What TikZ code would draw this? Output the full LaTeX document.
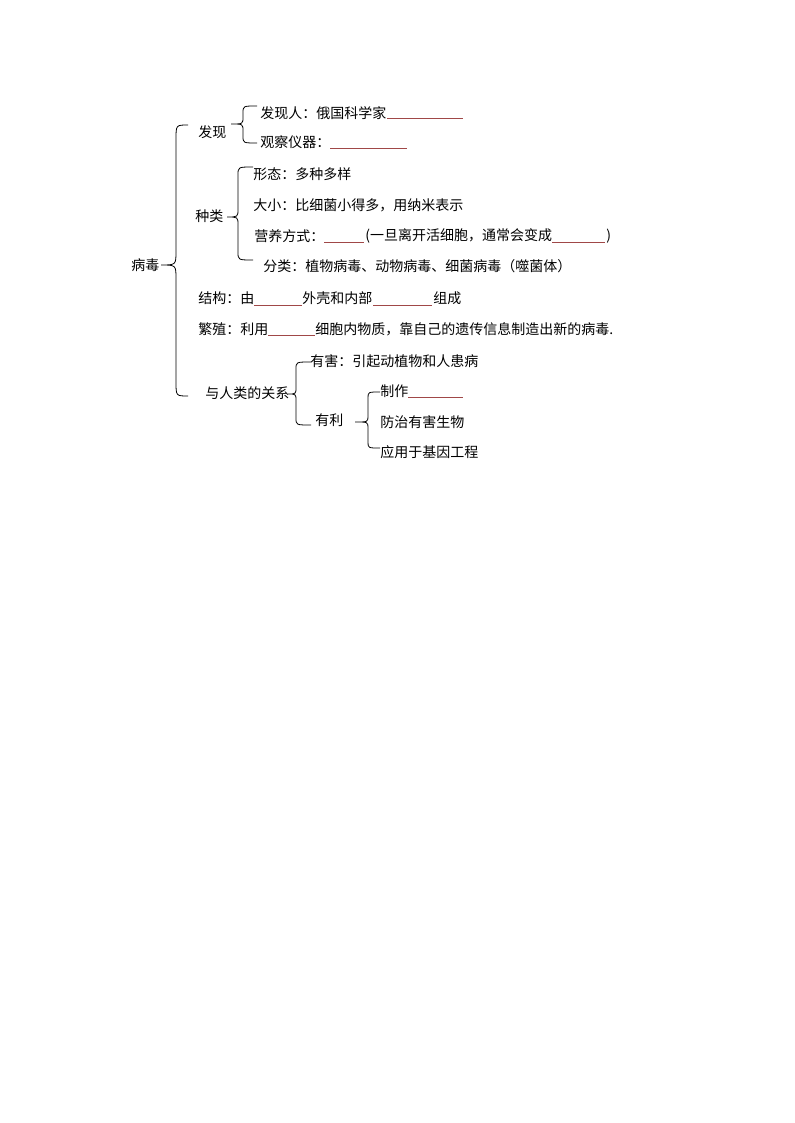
\documentclass[tikz,border=0pt]{standalone}
\usepackage{fontspec}
\setmainfont{Noto Sans CJK SC}
\definecolor{blankred}{HTML}{A04848}
\tikzset{
  txt/.style={anchor=west, inner sep=0pt, font=\fontsize{10.5}{12}\selectfont},
  brc/.style={draw=black, line width=0.6pt},
  blank/.style={draw=blankred, line width=0.55pt}
}
% #1 end x, #2 vertical x, #3 tip x, #4 top y, #5 mid y, #6 bottom y, #7 radius
\newcommand\mybrace[7]{%
  \draw[brc] (#1,#4) .. controls (#2,#4) .. (#2,#4+#7) -- (#2,#5-#7)
    .. controls (#2,#5) .. (#3,#5) .. controls (#2,#5) .. (#2,#5+#7)
    -- (#2,#6-#7) .. controls (#2,#6) .. (#1,#6);}
\begin{document}
\begin{tikzpicture}[x=0.75pt,y=-0.75pt]
\useasboundingbox (0,0) rectangle (794,1123);
% root
\node[txt] (root) at (131,265) {病毒};
\mybrace{188}{176}{161}{125}{265}{396}{14}
% 发现
\node[txt] (fx) at (198,132) {发现};
\mybrace{257}{243}{231}{106}{124}{143}{7}
\node[txt] (fxr) at (260,113) {发现人：俄国科学家};
\draw[blank] (387,118.5) -- (463,118.5);
\node[txt] (gcyq) at (260,142) {观察仪器：};
\draw[blank] (330,148.5) -- (407,148.5);
% 种类
\node[txt] (zl) at (195,216) {种类};
\mybrace{253}{238}{227}{167}{217}{260}{8}
\node[txt] (xt) at (253,174) {形态：多种多样};
\node[txt] (dx) at (253,205) {大小：比细菌小得多，用纳米表示};
\node[txt] (yy) at (254,236) {营养方式：};
\draw[blank] (324,242.5) -- (364,242.5);
\node[txt] (yy2) at (365,236) {(一旦离开活细胞，通常会变成};
\draw[blank] (552,242.5) -- (605,242.5);
\node[txt] (yy3) at (606,236) {)};
\node[txt] (fl) at (263,266) {分类：植物病毒、动物病毒、细菌病毒（噬菌体）};
% 结构
\node[txt] (jg) at (198,298) {结构：由};
\draw[blank] (254,305.5) -- (302,305.5);
\node[txt] (jg2) at (302,298) {外壳和内部};
\draw[blank] (373,305.5) -- (432,305.5);
\node[txt] (jg3) at (433,298) {组成};
% 繁殖
\node[txt] (fz) at (198,329) {繁殖：利用};
\draw[blank] (268,335.5) -- (315,335.5);
\node[txt] (fz2) at (315,329) {细胞内物质，靠自己的遗传信息制造出新的病毒.};
% 与人类的关系
\node[txt] (gx) at (205,393) {与人类的关系};
\mybrace{311}{296}{288}{362}{394}{425}{7}
\node[txt] (yh) at (310,361) {有害：引起动植物和人患病};
\node[txt] (yl) at (315,420) {有利};
\mybrace{380}{368}{355}{392}{422}{448}{6}
\node[txt] (zz) at (380,391) {制作};
\draw[blank] (408,397.5) -- (463,397.5);
\node[txt] (fzsw) at (380,422) {防治有害生物};
\node[txt] (yyjy) at (380,452) {应用于基因工程};
\end{tikzpicture}
\end{document}
